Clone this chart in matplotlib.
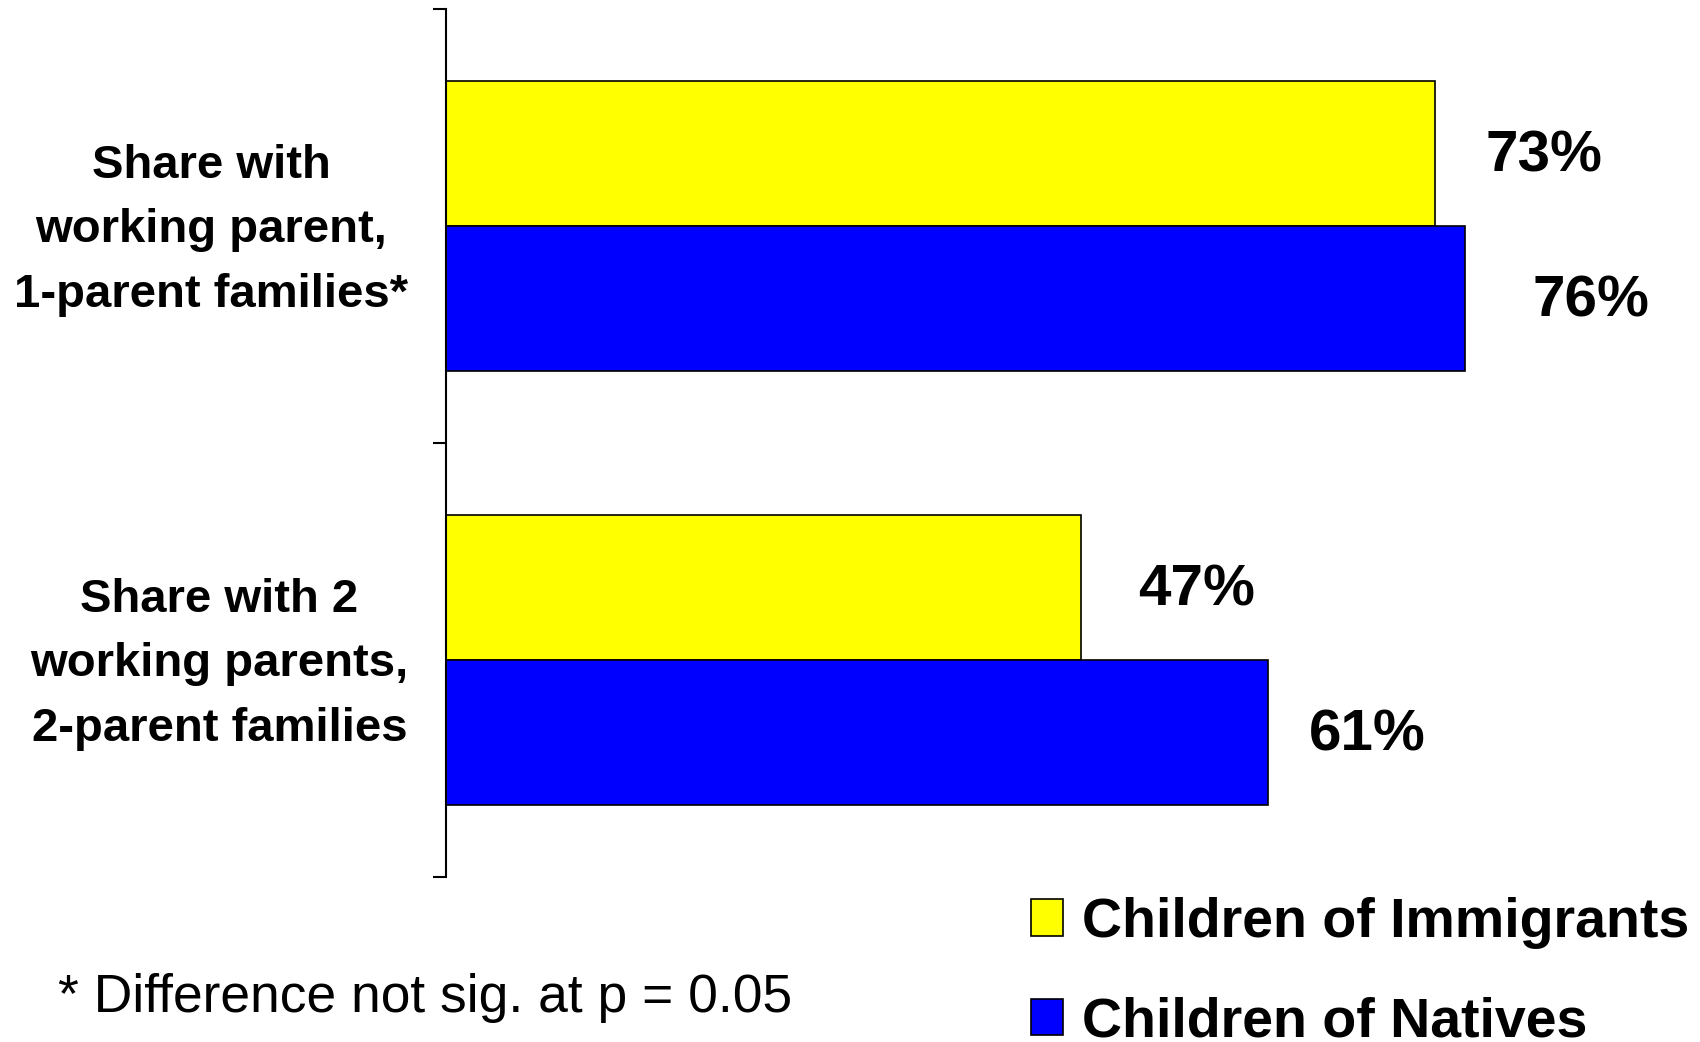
import matplotlib
matplotlib.use("Agg")
import matplotlib.pyplot as plt
from matplotlib.ticker import FixedLocator

plt.rcParams['font.family'] = ['Liberation Sans', 'DejaVu Sans']

categories = ["Share with\nworking parent,\n1-parent families*",
              "Share with 2\nworking parents,\n2-parent families"]
series_names = ["Children of Immigrants", "Children of Natives"]
immigrants = [73.4, 47.1]
natives = [75.6, 61.0]
value_labels_imm = ["73%", "47%"]
value_labels_nat = ["76%", "61%"]
footnote = "* Difference not sig. at p = 0.05"

colors = ["#FFFF00", "#0000FF"]
# label gaps from bar end (pixels): per series, per category
pad_imm = [50, 57]
pad_nat = [67, 41]

W, H, DPI = 1700, 1042, 100
PT = 72 / DPI
fig = plt.figure(figsize=(W / DPI, H / DPI), dpi=DPI)
ax_left, ax_bottom, ax_top = 446, 165, 8.7
ax_w = W - ax_left
ax = fig.add_axes([ax_left / W, ax_bottom / H, ax_w / W, (H - ax_bottom - ax_top) / H])

px_per_pct = 13.48
ax.set_xlim(0, ax_w / px_per_pct)
ax.set_ylim(-0.5, len(categories) - 0.5)
ax.invert_yaxis()

h = 0.334
ypos = list(range(len(categories)))
b1 = ax.barh([y - h / 2 for y in ypos], immigrants, height=h, color=colors[0],
             edgecolor="black", linewidth=1.2, label=series_names[0])
b2 = ax.barh([y + h / 2 for y in ypos], natives, height=h, color=colors[1],
             edgecolor="black", linewidth=1.2, label=series_names[1])

dy = -3.5 * PT
for i, y in enumerate(ypos):
    ax.annotate(value_labels_imm[i], (immigrants[i], y - h / 2),
                xytext=(pad_imm[i] * PT, dy), textcoords="offset points",
                ha="left", va="center", fontsize=42, fontweight="bold")
    ax.annotate(value_labels_nat[i], (natives[i], y + h / 2),
                xytext=(pad_nat[i] * PT, dy), textcoords="offset points",
                ha="left", va="center", fontsize=42, fontweight="bold")

for s in ["top", "right", "bottom"]:
    ax.spines[s].set_visible(False)
ax.spines["left"].set_linewidth(1.5)
ax.set_xticks([])
ax.set_yticks([])
# category labels (placed like tick labels)
for i, y in enumerate(ypos):
    ax.annotate(categories[i], (0, y), xycoords=ax.get_yaxis_transform(),
                xytext=(-37.5 * PT, -4.5 * PT), textcoords="offset points",
                ha="right", va="center", multialignment="center",
                fontsize=34, fontweight="bold", linespacing=1.6,
                annotation_clip=False)
ax.yaxis.set_minor_locator(FixedLocator([-0.5, 0.5, 1.5]))
ax.tick_params(axis="y", which="minor", length=9.4, width=1.5, direction="out")

leg = fig.legend(handles=[b1, b2], labels=series_names,
                 loc="upper left", bbox_to_anchor=(1031 / W, 1 - 897 / H),
                 frameon=False, prop={"weight": "bold", "size": 40},
                 handlelength=0.57, handleheight=0.63, handletextpad=0.34,
                 labelspacing=0.86, borderpad=0, borderaxespad=0)

fig.text(58 / W, 1 - 998 / H, footnote, fontsize=38.4, ha="left", va="center")

fig.savefig("out.png", dpi=DPI)
